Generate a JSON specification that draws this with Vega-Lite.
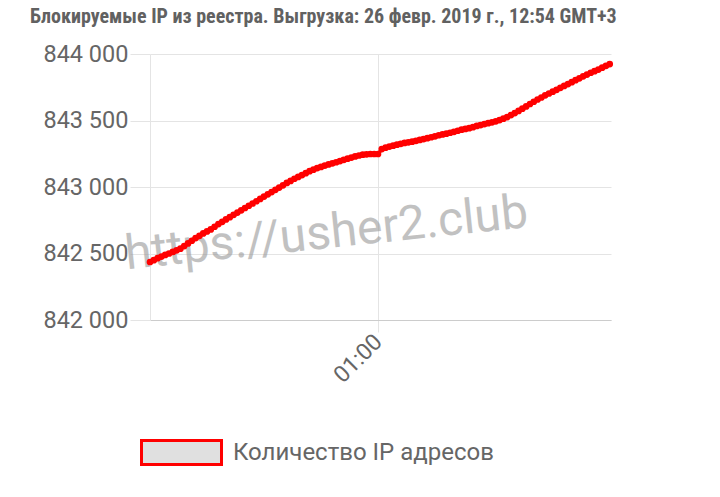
{
  "$schema": "https://vega.github.io/schema/vega-lite/v6.json",
  "width": 461,
  "height": 266,
  "autosize": {"type": "none"},
  "padding": {"left": 150, "top": 54, "right": 109, "bottom": 177},
  "background": "white",
  "title": {
    "text": "Блокируемые IP из реестра. Выгрузка: 26 февр. 2019 г., 12:54 GMT+3",
    "anchor": "start",
    "frame": "group",
    "dx": -120,
    "offset": 15,
    "font": "Liberation Sans Narrow, Roboto Condensed, Roboto",
    "fontSize": 20,
    "fontWeight": "bold",
    "color": "#616161"
  },
  "config": {
    "view": {"stroke": null},
    "axis": {"labelFont": "Roboto", "labelColor": "#666666", "labelFontSize": 23.5, "gridColor": "#e4e4e4", "tickColor": "#e4e4e4", "domainColor": "#e4e4e4"}
  },
  "datasets": {
    "ips": [
      {"time": "2019-02-26T00:00:00Z", "value": 842436},
      {"time": "2019-02-26T00:01:00Z", "value": 842450},
      {"time": "2019-02-26T00:02:00Z", "value": 842465},
      {"time": "2019-02-26T00:03:00Z", "value": 842477},
      {"time": "2019-02-26T00:04:00Z", "value": 842489},
      {"time": "2019-02-26T00:05:00Z", "value": 842500},
      {"time": "2019-02-26T00:06:00Z", "value": 842512},
      {"time": "2019-02-26T00:07:00Z", "value": 842524},
      {"time": "2019-02-26T00:08:00Z", "value": 842536},
      {"time": "2019-02-26T00:09:00Z", "value": 842556},
      {"time": "2019-02-26T00:10:00Z", "value": 842576},
      {"time": "2019-02-26T00:11:00Z", "value": 842596},
      {"time": "2019-02-26T00:12:00Z", "value": 842616},
      {"time": "2019-02-26T00:13:00Z", "value": 842633},
      {"time": "2019-02-26T00:14:00Z", "value": 842651},
      {"time": "2019-02-26T00:15:00Z", "value": 842666},
      {"time": "2019-02-26T00:16:00Z", "value": 842681},
      {"time": "2019-02-26T00:17:00Z", "value": 842701},
      {"time": "2019-02-26T00:18:00Z", "value": 842721},
      {"time": "2019-02-26T00:19:00Z", "value": 842738},
      {"time": "2019-02-26T00:20:00Z", "value": 842756},
      {"time": "2019-02-26T00:21:00Z", "value": 842773},
      {"time": "2019-02-26T00:22:00Z", "value": 842791},
      {"time": "2019-02-26T00:23:00Z", "value": 842808},
      {"time": "2019-02-26T00:24:00Z", "value": 842825},
      {"time": "2019-02-26T00:25:00Z", "value": 842842},
      {"time": "2019-02-26T00:26:00Z", "value": 842859},
      {"time": "2019-02-26T00:27:00Z", "value": 842876},
      {"time": "2019-02-26T00:28:00Z", "value": 842893},
      {"time": "2019-02-26T00:29:00Z", "value": 842910},
      {"time": "2019-02-26T00:30:00Z", "value": 842928},
      {"time": "2019-02-26T00:31:00Z", "value": 842945},
      {"time": "2019-02-26T00:32:00Z", "value": 842962},
      {"time": "2019-02-26T00:33:00Z", "value": 842979},
      {"time": "2019-02-26T00:34:00Z", "value": 842996},
      {"time": "2019-02-26T00:35:00Z", "value": 843013},
      {"time": "2019-02-26T00:36:00Z", "value": 843031},
      {"time": "2019-02-26T00:37:00Z", "value": 843046},
      {"time": "2019-02-26T00:38:00Z", "value": 843062},
      {"time": "2019-02-26T00:39:00Z", "value": 843076},
      {"time": "2019-02-26T00:40:00Z", "value": 843090},
      {"time": "2019-02-26T00:41:00Z", "value": 843104},
      {"time": "2019-02-26T00:42:00Z", "value": 843119},
      {"time": "2019-02-26T00:43:00Z", "value": 843130},
      {"time": "2019-02-26T00:44:00Z", "value": 843142},
      {"time": "2019-02-26T00:45:00Z", "value": 843151},
      {"time": "2019-02-26T00:46:00Z", "value": 843161},
      {"time": "2019-02-26T00:47:00Z", "value": 843170},
      {"time": "2019-02-26T00:48:00Z", "value": 843178},
      {"time": "2019-02-26T00:49:00Z", "value": 843186},
      {"time": "2019-02-26T00:50:00Z", "value": 843195},
      {"time": "2019-02-26T00:51:00Z", "value": 843204},
      {"time": "2019-02-26T00:52:00Z", "value": 843213},
      {"time": "2019-02-26T00:53:00Z", "value": 843221},
      {"time": "2019-02-26T00:54:00Z", "value": 843230},
      {"time": "2019-02-26T00:55:00Z", "value": 843237},
      {"time": "2019-02-26T00:56:00Z", "value": 843243},
      {"time": "2019-02-26T00:57:00Z", "value": 843246},
      {"time": "2019-02-26T00:58:00Z", "value": 843248},
      {"time": "2019-02-26T00:59:00Z", "value": 843248},
      {"time": "2019-02-26T01:00:00Z", "value": 843248},
      {"time": "2019-02-26T01:01:00Z", "value": 843285},
      {"time": "2019-02-26T01:02:00Z", "value": 843296},
      {"time": "2019-02-26T01:03:00Z", "value": 843304},
      {"time": "2019-02-26T01:04:00Z", "value": 843311},
      {"time": "2019-02-26T01:05:00Z", "value": 843318},
      {"time": "2019-02-26T01:06:00Z", "value": 843325},
      {"time": "2019-02-26T01:07:00Z", "value": 843331},
      {"time": "2019-02-26T01:08:00Z", "value": 843336},
      {"time": "2019-02-26T01:09:00Z", "value": 843341},
      {"time": "2019-02-26T01:10:00Z", "value": 843347},
      {"time": "2019-02-26T01:11:00Z", "value": 843354},
      {"time": "2019-02-26T01:12:00Z", "value": 843360},
      {"time": "2019-02-26T01:13:00Z", "value": 843367},
      {"time": "2019-02-26T01:14:00Z", "value": 843374},
      {"time": "2019-02-26T01:15:00Z", "value": 843381},
      {"time": "2019-02-26T01:16:00Z", "value": 843389},
      {"time": "2019-02-26T01:17:00Z", "value": 843395},
      {"time": "2019-02-26T01:18:00Z", "value": 843401},
      {"time": "2019-02-26T01:19:00Z", "value": 843408},
      {"time": "2019-02-26T01:20:00Z", "value": 843415},
      {"time": "2019-02-26T01:21:00Z", "value": 843423},
      {"time": "2019-02-26T01:22:00Z", "value": 843431},
      {"time": "2019-02-26T01:23:00Z", "value": 843437},
      {"time": "2019-02-26T01:24:00Z", "value": 843442},
      {"time": "2019-02-26T01:25:00Z", "value": 843450},
      {"time": "2019-02-26T01:26:00Z", "value": 843459},
      {"time": "2019-02-26T01:27:00Z", "value": 843466},
      {"time": "2019-02-26T01:28:00Z", "value": 843473},
      {"time": "2019-02-26T01:29:00Z", "value": 843480},
      {"time": "2019-02-26T01:30:00Z", "value": 843486},
      {"time": "2019-02-26T01:31:00Z", "value": 843494},
      {"time": "2019-02-26T01:32:00Z", "value": 843503},
      {"time": "2019-02-26T01:33:00Z", "value": 843514},
      {"time": "2019-02-26T01:34:00Z", "value": 843526},
      {"time": "2019-02-26T01:35:00Z", "value": 843541},
      {"time": "2019-02-26T01:36:00Z", "value": 843556},
      {"time": "2019-02-26T01:37:00Z", "value": 843572},
      {"time": "2019-02-26T01:38:00Z", "value": 843589},
      {"time": "2019-02-26T01:39:00Z", "value": 843606},
      {"time": "2019-02-26T01:40:00Z", "value": 843624},
      {"time": "2019-02-26T01:41:00Z", "value": 843641},
      {"time": "2019-02-26T01:42:00Z", "value": 843658},
      {"time": "2019-02-26T01:43:00Z", "value": 843673},
      {"time": "2019-02-26T01:44:00Z", "value": 843689},
      {"time": "2019-02-26T01:45:00Z", "value": 843703},
      {"time": "2019-02-26T01:46:00Z", "value": 843717},
      {"time": "2019-02-26T01:47:00Z", "value": 843731},
      {"time": "2019-02-26T01:48:00Z", "value": 843746},
      {"time": "2019-02-26T01:49:00Z", "value": 843760},
      {"time": "2019-02-26T01:50:00Z", "value": 843774},
      {"time": "2019-02-26T01:51:00Z", "value": 843788},
      {"time": "2019-02-26T01:52:00Z", "value": 843803},
      {"time": "2019-02-26T01:53:00Z", "value": 843817},
      {"time": "2019-02-26T01:54:00Z", "value": 843832},
      {"time": "2019-02-26T01:55:00Z", "value": 843845},
      {"time": "2019-02-26T01:56:00Z", "value": 843859},
      {"time": "2019-02-26T01:57:00Z", "value": 843871},
      {"time": "2019-02-26T01:58:00Z", "value": 843883},
      {"time": "2019-02-26T01:59:00Z", "value": 843897},
      {"time": "2019-02-26T02:00:00Z", "value": 843911},
      {"time": "2019-02-26T02:01:00Z", "value": 843924}
    ],
    "mark": [
      {"time": "2019-02-26T00:46:50Z", "value": 842541, "label": "https://usher2.club"}
    ]
  },
  "layer": [
    {
      "data": {"name": "mark"},
      "mark": {"type": "text", "angle": 354, "font": "Roboto", "fontSize": 48, "color": "#999999", "opacity": 0.6, "align": "center", "baseline": "alphabetic"},
      "encoding": {
        "x": {"field": "time", "type": "temporal"},
        "y": {"field": "value", "type": "quantitative"},
        "text": {"field": "label"}
      }
    },
    {
      "data": {"name": "ips"},
      "mark": {"type": "line", "strokeWidth": 3.5},
      "encoding": {
        "x": {
          "field": "time",
          "type": "temporal",
          "scale": {"type": "utc", "domain": [
            {"year": 2019, "month": 2, "date": 26, "hours": 0, "minutes": 0, "utc": true},
            {"year": 2019, "month": 2, "date": 26, "hours": 2, "minutes": 1, "seconds": 20, "utc": true}
          ]},
          "axis": {
            "title": null,
            "values": [{"year": 2019, "month": 2, "date": 26, "hours": 1, "minutes": 0, "utc": true}],
            "format": "%H:%M",
            "labelAngle": -45,
            "labelAlign": "right",
            "labelBaseline": "middle",
            "labelFontSize": 23,
            "tickSize": 12,
            "labelPadding": 6,
            "domainColor": "#cccccc"
          }
        },
        "y": {
          "field": "value",
          "type": "quantitative",
          "scale": {"domain": [842000, 844000], "nice": false, "zero": false},
          "axis": {
            "title": null,
            "values": [842000, 842500, 843000, 843500, 844000],
            "labelExpr": "replace(format(datum.value, ',d'), ',', ' ')",
            "tickSize": 20,
            "labelPadding": 2
          }
        },
        "color": {
          "datum": "Количество IP адресов",
          "type": "nominal",
          "scale": {"range": ["#ff0000"]},
          "legend": {
            "title": null,
            "orient": "none",
            "legendX": -10,
            "legendY": 357,
            "symbolType": "M-1,-0.3H1V0.3H-1Z",
            "symbolSize": 6400,
            "symbolFillColor": "#e0e0e0",
            "symbolStrokeWidth": 3,
            "labelFont": "Roboto",
            "labelFontSize": 24,
            "labelColor": "#666666",
            "labelOffset": 10,
            "labelLimit": 400,
            "encode": {
              "symbols": {"update": {
                "fill": {"value": "#e0e0e0"},
                "stroke": {"value": "#dd0000"},
                "strokeWidth": {"value": 3}
              }}
            }
          }
        }
      }
    },
    {
      "data": {"name": "ips"},
      "mark": {"type": "point", "filled": true, "size": 45, "color": "#ff0000", "opacity": 1},
      "encoding": {
        "x": {"field": "time", "type": "temporal"},
        "y": {"field": "value", "type": "quantitative"}
      }
    }
  ]
}
